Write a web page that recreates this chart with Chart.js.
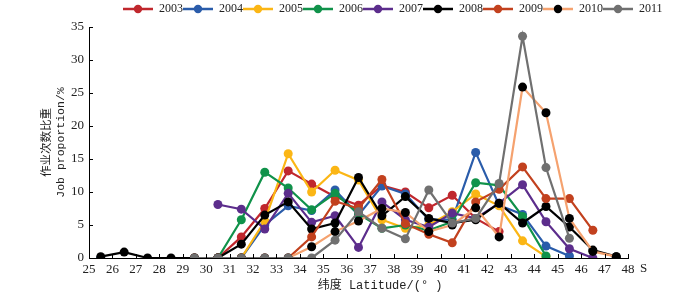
<!DOCTYPE html>
<html>
<head>
<meta charset="utf-8">
<script src="https://cdn.jsdelivr.net/npm/chart.js@4"></script>
<style>
html, body { margin: 0; padding: 0; background: #fff; }
</style>
</head>
<body>
<canvas id="latChart" width="700" height="293"></canvas>
<script>
var latitudes = [25.5, 26.5, 27.5, 28.5, 29.5, 30.5, 31.5, 32.5, 33.5, 34.5, 35.5, 36.5,
                 37.5, 38.5, 39.5, 40.5, 41.5, 42.5, 43.5, 44.5, 45.5, 46.5, 47.5];
var years = ['2003', '2004', '2005', '2006', '2007', '2008', '2009', '2010', '2011'];

var s2003 = [null, null, null, null, null, 0, 3.2, 7.5, 13.2, 11.2, 9.3, 8.0, 11.0, 10.0, 7.6, 9.5, 6.0, 4.0, null, null, null, null, null];
var s2004 = [0, null, null, null, null, null, 0, 5.0, 7.9, 7.2, 10.3, 6.5, 10.9, 9.7, 5.8, 5.8, 16.0, 8.0, 6.6, 1.8, 0.3, null, null];
var s2005 = [null, null, null, null, null, null, 0, 5.6, 15.8, 10.0, 13.3, 11.8, 5.8, 4.5, 5.0, 7.0, 9.7, 7.9, 2.6, 0.2, null, null, null];
var s2006 = [null, null, null, null, null, 0, 5.8, 13.0, 10.6, 7.3, 9.8, 6.7, 4.5, 5.0, 4.2, 5.5, 11.4, 11.0, 6.3, 0.3, null, null, null];
var s2007 = [null, null, null, null, null, 8.1, 7.4, 4.4, 9.8, 5.4, 6.4, 1.6, 8.5, 5.8, 4.7, 6.8, 6.0, 8.3, 11.1, 5.5, 1.4, 0, null];
var s2008 = [0.2, 0.9, 0, 0, 0, 0, 2.1, 6.5, 8.5, 4.4, 5.3, 12.2, 6.4, 9.3, 6.0, 5.3, 5.8, 8.3, 5.3, 7.8, 4.7, 1.2, 0.2];
var s2009 = [null, null, null, null, 0, 0, 0, 0, 0, 3.2, 8.6, 7.5, 11.9, 5.2, 3.6, 2.3, 8.5, 10.4, 13.8, 9.0, 9.0, 4.2, null];
var s2010 = [null, null, null, null, 0, 0, 0, 0, 0, 1.7, 4.0, 5.6, 7.5, 6.9, 4.0, 5.0, 7.6, 3.2, 25.9, 22.0, 6.0, 1.0, 0.2];
var s2011 = [null, null, null, null, 0, 0, 0, 0, 0, 0, 2.7, 7.0, 4.5, 2.9, 10.3, 5.3, 6.0, 11.3, 33.6, 13.7, 3.0, null, null];

var series = [s2003, s2004, s2005, s2006, s2007, s2008, s2009, s2010, s2011];
var lineColors   = ['#c0272d', '#2a5caa', '#fbb615', '#10924a', '#5c2d8c', '#000000', '#c2411e', '#f5a26f', '#707070'];
var markerColors = ['#c0272d', '#2a5caa', '#fbb615', '#10924a', '#5c2d8c', '#000000', '#c2411e', '#000000', '#707070'];

var xTicks = { min: 25, max: 48, step: 1 };
var yTicks = { min: 0, max: 35, step: 5 };

var serif = "'Liberation Serif', 'Noto Sans CJK SC', serif";
var mono = "'Liberation Mono', 'Noto Sans CJK SC', monospace";

function legendIcon(line, marker) {
    var c = document.createElement('canvas');
    c.width = 30; c.height = 10;
    var g = c.getContext('2d');
    g.strokeStyle = line; g.lineWidth = 2.5;
    g.beginPath(); g.moveTo(0, 5); g.lineTo(30, 5); g.stroke();
    g.fillStyle = marker;
    g.beginPath(); g.arc(15, 5, 4.2, 0, Math.PI * 2); g.fill();
    return c;
}

var datasets = years.map(function (y, i) {
    return {
        label: y,
        data: latitudes.map(function (lat, k) { return { x: lat, y: series[i][k] }; }),
        borderColor: lineColors[i],
        backgroundColor: markerColors[i],
        pointBackgroundColor: markerColors[i],
        pointBorderColor: markerColors[i],
        borderWidth: 2.2,
        pointRadius: 4.5,
        pointBorderWidth: 0,
        order: years.length - 1 - i,
        icon: legendIcon(lineColors[i], markerColors[i])
    };
});

var decorations = {
    id: 'decorations',
    afterInit: function (chart) {
        var lg = chart.legend;
        if (!lg) return;
        var fit = lg.fit;
        lg.fit = function () { fit.call(this); this.height = 24; };
    },
    beforeDraw: function (chart) {
        var lg = chart.legend;
        if (lg) { var w = lg.right - lg.left; lg.left = 123; lg.right = 123 + w; }
    },
    afterDraw: function (chart) {
        var ctx = chart.ctx, a = chart.chartArea;
        var xs = chart.scales.x, ys = chart.scales.y;
        ctx.save();
        ctx.strokeStyle = '#000'; ctx.lineWidth = 1;
        ctx.beginPath();
        for (var v = xTicks.min; v <= xTicks.max; v += xTicks.step) {
            var px = Math.round(xs.getPixelForValue(v)) + 0.5;
            ctx.moveTo(px, a.bottom); ctx.lineTo(px, a.bottom - 4);
        }
        for (var t = yTicks.min; t <= yTicks.max; t += yTicks.step) {
            var py = Math.round(ys.getPixelForValue(t)) + 0.5;
            ctx.moveTo(a.left, py); ctx.lineTo(a.left + 4, py);
        }
        ctx.stroke();
        ctx.fillStyle = '#222';
        ctx.font = '13px ' + serif;
        ctx.textBaseline = 'middle';
        ctx.fillText('S', xs.getPixelForValue(xTicks.max) + 12, a.bottom + 11);
        ctx.restore();
    }
};

new Chart(document.getElementById('latChart'), {
    type: 'line',
    data: { datasets: datasets },
    plugins: [decorations],
    options: {
        responsive: false,
        animation: false,
        layout: { padding: { left: 0, right: 72, top: 3, bottom: 0 } },
        plugins: {
            tooltip: { enabled: false },
            legend: {
                position: 'top',
                align: 'start',
                labels: {
                    usePointStyle: true,
                    pointStyleWidth: 30,
                    padding: 0,
                    color: '#222',
                    font: { size: 12, family: serif },
                    generateLabels: function (chart) {
                        return chart.data.datasets.map(function (d, i) {
                            return { text: d.label, pointStyle: d.icon, datasetIndex: i,
                                     fillStyle: d.borderColor, strokeStyle: d.borderColor,
                                     lineWidth: 0, hidden: false, fontColor: '#222' };
                        });
                    }
                }
            }
        },
        scales: {
            x: {
                type: 'linear',
                min: xTicks.min, max: xTicks.max,
                afterFit: function (s) { s.height = 35; },
                grid: { display: false, drawTicks: false },
                border: { display: true, color: '#000', width: 1 },
                ticks: { stepSize: xTicks.step, padding: 4, color: '#222', font: { size: 13, family: serif }, maxRotation: 0, autoSkip: false },
                title: { display: true, text: '      纬度 Latitude/(° )', color: '#222', padding: { top: 0, bottom: 0 }, font: { size: 12, family: mono } }
            },
            y: {
                min: yTicks.min, max: yTicks.max,
                afterFit: function (s) { s.width = 89; },
                grid: { display: false, drawTicks: false },
                border: { display: true, color: '#000', width: 1 },
                ticks: { stepSize: yTicks.step, padding: 5, color: '#222', font: { size: 13, family: serif } },
                title: { display: true, text: ['作业次数比重', 'Job proportion/%'], color: '#222', padding: { top: 40, bottom: 0 }, font: { size: 11.5, family: mono, lineHeight: 1.2 } }
            }
        }
    }
});
</script>
</body>
</html>
